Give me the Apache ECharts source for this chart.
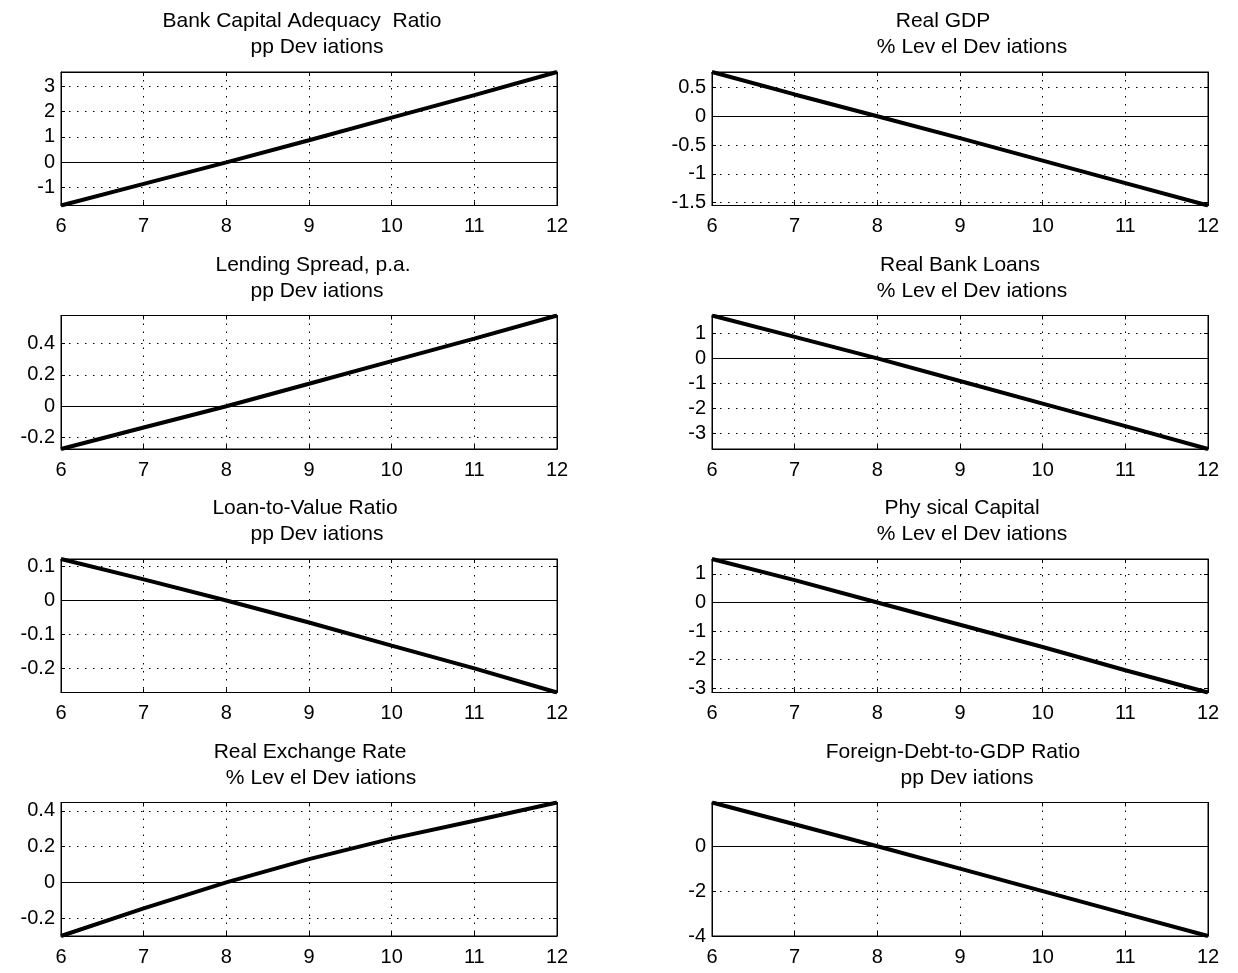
<!DOCTYPE html>
<html>
<head>
<meta charset="utf-8">
<script src="https://cdn.jsdelivr.net/npm/echarts@6/dist/echarts.min.js"></script>
<style>
  html, body { margin: 0; padding: 0; background: #ffffff; }
  #chart { width: 1238px; height: 973px; }
</style>
</head>
<body>
<div id="chart"></div>
<script>
// Horizon (quarters) shared by every panel
const periods = [6, 7, 8, 9, 10, 11, 12];

// Panel titles (first and second line)
const titleLines = [
  'Bank Capital Adequacy  Ratio', 'Real GDP',
  'Lending Spread, p.a.', 'Real Bank Loans',
  'Loan-to-Value Ratio', 'Phy sical Capital',
  'Real Exchange Rate', 'Foreign-Debt-to-GDP Ratio'
];
const unitLines = [
  'pp Dev iations', '% Lev el Dev iations',
  'pp Dev iations', '% Lev el Dev iations',
  'pp Dev iations', '% Lev el Dev iations',
  '% Lev el Dev iations', 'pp Dev iations'
];

// Responses, one value per period
const bankCapital     = [-1.70, -0.85, 0, 0.87, 1.76, 2.65, 3.56];
const realGdp         = [0.77, 0.38, 0, -0.38, -0.77, -1.16, -1.55];
const lendingSpread   = [-0.272, -0.135, 0, 0.143, 0.287, 0.43, 0.577];
const realBankLoans   = [1.71, 0.86, 0, -0.90, -1.80, -2.70, -3.61];
const loanToValue     = [0.122, 0.062, 0, -0.065, -0.133, -0.200, -0.271];
const physicalCapital = [1.52, 0.78, 0, -0.78, -1.56, -2.37, -3.15];
const realExchange    = [-0.300, -0.145, 0, 0.130, 0.245, 0.345, 0.447];
const foreignDebt     = [1.95, 0.98, 0, -1.00, -2.00, -3.00, -4.00];

// Y tick labels for each panel
const bankCapitalTicks     = [-1, 0, 1, 2, 3];
const realGdpTicks         = [-1.5, -1, -0.5, 0, 0.5];
const lendingSpreadTicks   = [-0.2, 0, 0.2, 0.4];
const realBankLoansTicks   = [-3, -2, -1, 0, 1];
const loanToValueTicks     = [-0.2, -0.1, 0, 0.1];
const physicalCapitalTicks = [-3, -2, -1, 0, 1];
const realExchangeTicks    = [-0.2, 0, 0.2, 0.4];
const foreignDebtTicks     = [-4, -2, 0];

const panelValues = [bankCapital, realGdp, lendingSpread, realBankLoans,
                     loanToValue, physicalCapital, realExchange, foreignDebt];
const panelTicks = [bankCapitalTicks, realGdpTicks, lendingSpreadTicks, realBankLoansTicks,
                    loanToValueTicks, physicalCapitalTicks, realExchangeTicks, foreignDebtTicks];

// Layout of the 4 x 2 grid
const FONT = "'Liberation Sans', Arial, Helvetica, sans-serif";
const colLeft = [61, 712];
const plotWidth = 496;
const rowTop = [72, 315.5, 559, 802.5];
const plotHeight = 133.5;
// horizontal centres of the two title lines, per panel
const titleCentre = [302, 943, 313, 960, 305, 962, 310, 953];
const unitCentre  = [317, 972, 317, 972, 317, 972, 321, 967];

const dotted = { color: '#000', width: 1, type: [1.5, 6.5] };
const black = { color: '#000', width: 1 };
const titleText = { fontFamily: FONT, fontSize: 21, fontWeight: 'normal', color: '#000' };
const tickFont = 20;

const grids = [], xAxes = [], yAxes = [], series = [], titles = [];

panelValues.forEach((values, i) => {
  const row = Math.floor(i / 2), col = i % 2;
  const top = rowTop[row], left = colLeft[col];
  grids.push({ left: left, top: top, width: plotWidth, height: plotHeight,
               show: true, borderColor: '#000', borderWidth: 1, backgroundColor: '#fff' });

  titles.push({ text: titleLines[i], left: titleCentre[i], top: top - 61, textAlign: 'center',
                padding: 0, textStyle: titleText });
  titles.push({ text: unitLines[i], left: unitCentre[i], top: top - 35, textAlign: 'center',
                padding: 0, textStyle: titleText });

  const ticks = panelTicks[i];
  const yMin = Math.min(...values), yMax = Math.max(...values);

  // bottom axis with labels
  xAxes.push({
    gridIndex: i, type: 'value', position: 'bottom', min: 6, max: 12, interval: 1,
    axisLine: { onZero: false, lineStyle: black },
    axisTick: { inside: true, length: 4, lineStyle: black },
    axisLabel: { fontFamily: FONT, fontSize: tickFont, color: '#000', margin: 11 },
    splitLine: { show: true, lineStyle: dotted }
  });
  // top axis, ticks only
  xAxes.push({
    gridIndex: i, type: 'value', position: 'top', min: 6, max: 12, interval: 1,
    axisLine: { onZero: false, lineStyle: black },
    axisTick: { inside: true, length: 4, lineStyle: black },
    axisLabel: { show: false }, splitLine: { show: false }
  });
  // left axis with labels
  yAxes.push({
    gridIndex: i, type: 'value', position: 'left', min: yMin, max: yMax,
    axisLine: { show: true, onZero: false, lineStyle: black },
    axisTick: { show: true, inside: true, length: 4, lineStyle: black, customValues: ticks },
    axisLabel: { fontFamily: FONT, fontSize: tickFont, color: '#000', margin: 6, customValues: ticks },
    splitLine: { show: true, lineStyle: dotted }
  });
  // right axis, ticks only
  yAxes.push({
    gridIndex: i, type: 'value', position: 'right', min: yMin, max: yMax,
    axisLine: { show: true, onZero: false, lineStyle: black },
    axisTick: { show: true, inside: true, length: 4, lineStyle: black, customValues: ticks },
    axisLabel: { show: false, customValues: ticks }, splitLine: { show: false }
  });

  series.push({
    type: 'line', xAxisIndex: 2 * i, yAxisIndex: 2 * i,
    data: periods.map((p, k) => [p, values[k]]),
    symbol: 'none', silent: true, z: 5,
    lineStyle: { color: '#000', width: 4 },
    markLine: {
      silent: true, symbol: 'none', label: { show: false },
      lineStyle: { color: '#000', width: 1, type: 'solid' },
      data: [{ yAxis: 0 }]
    }
  });
});

const chart = echarts.init(document.getElementById('chart'), null, { renderer: 'canvas' });
chart.setOption({
  backgroundColor: '#fff',
  animation: false,
  title: titles,
  grid: grids,
  xAxis: xAxes,
  yAxis: yAxes,
  series: series
});
</script>
</body>
</html>
